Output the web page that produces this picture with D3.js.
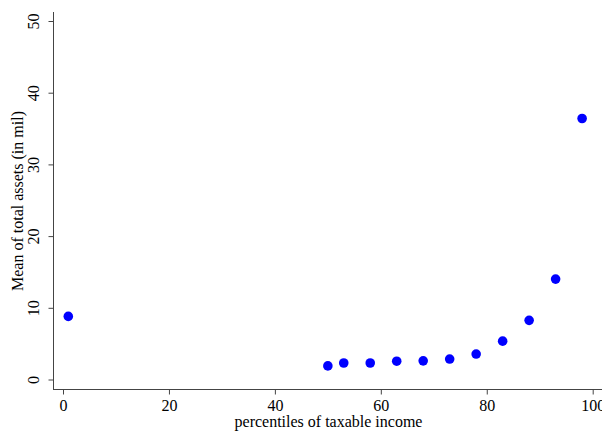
<!DOCTYPE html>
<html>
<head>
<meta charset="utf-8">
<script src="https://cdn.jsdelivr.net/npm/d3@7"></script>
<style>
  body { margin: 0; background: #fff; }
  text { font-family: "Liberation Serif", "DejaVu Serif", serif; fill: #000; }
</style>
</head>
<body>
<div class="graphContainer"></div>
<script>
const w = 602;
const h = 433;

// percentile bins and mean total assets (in mil)
const percentiles = [1, 50, 53, 58, 63, 68, 73, 78, 83, 88, 93, 98];
const meanAssets = [8.8, 1.9, 2.3, 2.3, 2.55, 2.6, 2.85, 3.55, 5.35, 8.25, 14.0, 36.4];
const xTicks = [0, 20, 40, 60, 80, 100];
const yTicks = [0, 10, 20, 30, 40, 50];

const svg = d3.select(".graphContainer")
              .append("svg")
              .attr("width", w)
              .attr("height", h);

const x = d3.scaleLinear().domain([0, 100]).range([63, 592.7]);
const y = d3.scaleLinear().domain([0, 50]).range([379.5, 21]);

const axisColor = "#444";
const fs = 16;

// x axis
const gx = svg.append("g").attr("transform", "translate(0,389.5)");
gx.append("line")
  .attr("x1", 53).attr("x2", 602)
  .attr("stroke", axisColor);
gx.call(d3.axisBottom(x).tickValues(xTicks).tickSize(5).tickPadding(5))
  .call(g => g.select(".domain").remove())
  .call(g => g.selectAll("line").attr("stroke", axisColor))
  .call(g => g.selectAll("text").attr("font-size", fs).attr("font-family", "Liberation Serif").attr("fill", "#000"));

// y axis
const gy = svg.append("g").attr("transform", "translate(53.5,0)");
gy.append("line")
  .attr("y1", 12).attr("y2", 389.5)
  .attr("stroke", axisColor);
gy.call(d3.axisLeft(y).tickValues(yTicks).tickSize(5).tickFormat(d3.format("d")))
  .call(g => g.select(".domain").remove())
  .call(g => g.selectAll("line").attr("stroke", axisColor))
  .call(g => g.selectAll("text")
              .attr("font-size", fs)
              .attr("font-family", "Liberation Serif")
              .attr("fill", "#000")
              .attr("x", null)
              .attr("text-anchor", "middle")
              .attr("transform", "translate(-20.5,0) rotate(-90)")
              .attr("y", 0)
              .attr("dy", "0.35em"));

// axis titles
svg.append("text")
   .attr("x", 328.5).attr("y", 427)
   .attr("text-anchor", "middle")
   .attr("font-size", fs)
   .text("percentiles of taxable income");

svg.append("text")
   .attr("transform", "translate(23,201) rotate(-90)")
   .attr("text-anchor", "middle")
   .attr("font-size", fs)
   .text("Mean of total assets (in mil)");

// points
svg.append("g")
   .selectAll("circle")
   .data(percentiles.map((p, i) => ({p: p, v: meanAssets[i]})))
   .enter()
   .append("circle")
   .attr("cx", d => x(d.p))
   .attr("cy", d => y(d.v))
   .attr("r", 4.8)
   .attr("fill", "#0000ff");
</script>
</body>
</html>
